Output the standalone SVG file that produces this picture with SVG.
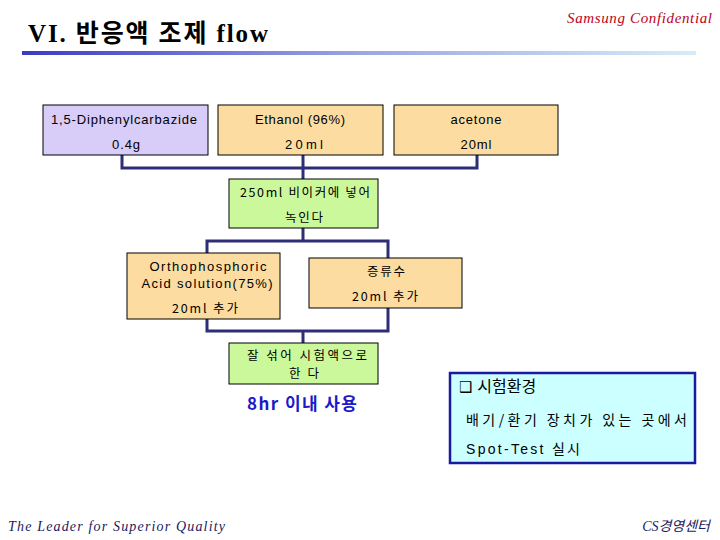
<svg xmlns="http://www.w3.org/2000/svg" width="720" height="540" viewBox="0 0 720 540">
<defs>
<linearGradient id="bar" x1="0" y1="0" x2="1" y2="0">
<stop offset="0" stop-color="#3b3bc4"/>
<stop offset="0.5" stop-color="#9aa6e2"/>
<stop offset="1" stop-color="#d6ecf8"/>
</linearGradient>
<style>
.t{font-family:"Liberation Sans","Noto Sans CJK KR",sans-serif;font-size:13px;fill:#000;text-anchor:middle}
.k{font-family:"Noto Sans CJK KR","Liberation Sans",sans-serif;font-size:12.5px;fill:#000;text-anchor:middle}
.box{stroke:#000;stroke-width:1}
.p{fill:#d8ccf8}
.o{fill:#fcdca0}
.g{fill:#ccf89c}
.c{fill:none;stroke:#2e2e78;stroke-width:3}
</style>
</defs>
<rect width="720" height="540" fill="#fff"/>
<text x="28" y="42" font-family="Liberation Serif,'Noto Sans CJK KR',serif" font-size="25" font-weight="bold" fill="#000" textLength="240" lengthAdjust="spacing">VI.  반응액 조제 flow</text>
<rect x="22" y="51" width="674" height="4" fill="url(#bar)"/>
<text x="712" y="23" font-family="Liberation Serif,serif" font-style="italic" font-size="15" fill="#c00020" text-anchor="end" textLength="145" lengthAdjust="spacing">Samsung Confidential</text>

<g id="connectors">
<polyline class="c" points="122,155 122,168 477,168 477,155"/>
<line class="c" x1="303" y1="155" x2="303" y2="179"/>
<polyline class="c" points="207,253 207,241 388,241 388,258"/>
<line class="c" x1="303" y1="228" x2="303" y2="241"/>
<polyline class="c" points="207,319 207,331 388,331 388,308"/>
<line class="c" x1="303" y1="331" x2="303" y2="343"/>
</g>

<g id="n1"><rect class="box p" x="43" y="105" width="165" height="50"/>
<text class="t" x="124" y="124" textLength="146" lengthAdjust="spacing">1,5-Diphenylcarbazide</text>
<text class="t" x="126" y="149" textLength="28" lengthAdjust="spacing">0.4g</text></g>
<g id="n2"><rect class="box o" x="218" y="105" width="165" height="50"/>
<text class="t" x="300" y="124" textLength="90" lengthAdjust="spacing">Ethanol (96%)</text>
<text class="t" x="304" y="149" textLength="38" lengthAdjust="spacing">20ml</text></g>
<g id="n3"><rect class="box o" x="394" y="105" width="164" height="50"/>
<text class="t" x="476" y="124" textLength="51" lengthAdjust="spacing">acetone</text>
<text class="t" x="476" y="149" textLength="31" lengthAdjust="spacing">20ml</text></g>
<g id="n4"><rect class="box g" x="229" y="179" width="149" height="49"/>
<text class="k" x="305" y="197" textLength="130" lengthAdjust="spacing">250ml 비이커에 넣어</text>
<text class="k" x="304" y="222" textLength="38" lengthAdjust="spacing">녹인다</text></g>
<g id="n5"><rect class="box o" x="127" y="253" width="153" height="66"/>
<text class="t" x="208" y="271" textLength="117" lengthAdjust="spacing">Orthophosphoric</text>
<text class="t" x="207" y="288" textLength="131" lengthAdjust="spacing">Acid solution(75%)</text>
<text class="k" x="205" y="313" textLength="66" lengthAdjust="spacing">20ml 추가</text></g>
<g id="n6"><rect class="box o" x="309" y="258" width="153" height="50"/>
<text class="k" x="386" y="276" textLength="38" lengthAdjust="spacing">증류수</text>
<text class="k" x="385" y="301" textLength="66" lengthAdjust="spacing">20ml  추가</text></g>
<g id="n7"><rect class="box g" x="229" y="343" width="149" height="41"/>
<text class="k" x="307" y="360" textLength="120" lengthAdjust="spacing">잘 섞어 시험액으로</text>
<text class="k" x="304" y="378" textLength="30" lengthAdjust="spacing">한다</text></g>
<g id="n8"><text x="302" y="410" font-family="'Noto Sans CJK KR','Liberation Sans',sans-serif" font-size="17" font-weight="bold" fill="#1a1ac8" text-anchor="middle" textLength="110" lengthAdjust="spacing">8hr 이내 사용</text></g>
<g id="n9"><rect x="450" y="373" width="245" height="90" fill="#ccffff" stroke="#1a1aa0" stroke-width="2.5"/>
<text x="459" y="392" font-family="'DejaVu Sans','Noto Sans CJK KR',sans-serif" font-size="15" fill="#000">❑ <tspan font-family="'Noto Sans CJK KR',sans-serif" font-size="16">시험환경</tspan></text>
<text x="466" y="425" font-family="'Noto Sans CJK KR','Liberation Sans',sans-serif" font-size="14" fill="#000" textLength="221" lengthAdjust="spacing">배기/환기 장치가 있는 곳에서</text>
<text x="466" y="454" font-family="'Liberation Sans','Noto Sans CJK KR',sans-serif" font-size="14" fill="#000" textLength="114" lengthAdjust="spacing">Spot-Test <tspan font-family="'Noto Sans CJK KR',sans-serif">실시</tspan></text></g>

<text x="8" y="531" font-family="Liberation Serif,serif" font-style="italic" font-size="14" fill="#1a1a60" textLength="217" lengthAdjust="spacing">The Leader for Superior Quality</text>
<text x="710" y="531" font-family="Liberation Serif,'Noto Sans CJK KR',serif" font-style="italic" font-size="14" fill="#1a1a60" text-anchor="end">CS경영센터</text>
</svg>
